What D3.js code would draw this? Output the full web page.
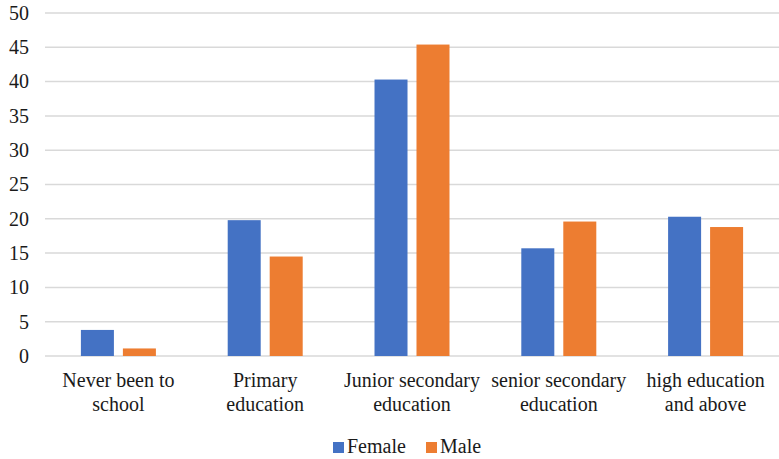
<!DOCTYPE html>
<html>
<head>
<meta charset="utf-8">
<style>
  body { margin: 0; background: #fff; }
  svg text { font-family: "Liberation Serif", "Times New Roman", Tinos, serif !important; }
</style>
</head>
<body>
<svg id="chart" width="779" height="459"></svg>
<script src="https://d3js.org/d3.v7.min.js"></script>
<script>
const categories = [
  ['Never been to', 'school'],
  ['Primary', 'education'],
  ['Junior secondary', 'education'],
  ['senior secondary', 'education'],
  ['high education', 'and above']
];
const seriesNames = ['Female', 'Male'];
const female = [3.8, 19.8, 40.3, 15.7, 20.3];
const male = [1.1, 14.5, 45.4, 19.6, 18.8];
const yTicks = [0, 5, 10, 15, 20, 25, 30, 35, 40, 45, 50];
const colors = ['#4472C4', '#ED7D31'];

const width = 779, height = 459;
const margin = { top: 13, right: 0, bottom: 103, left: 45 };
const font = '"Liberation Serif", "Times New Roman", Tinos, serif';
const textColor = '#1a1a1a';

const svg = d3.select('#chart');

const x = d3.scaleBand()
  .domain(d3.range(categories.length))
  .range([margin.left, width - margin.right]);

const y = d3.scaleLinear()
  .domain([0, 50])
  .range([height - margin.bottom, margin.top]);

// gridlines
svg.append('g')
  .selectAll('line')
  .data(yTicks)
  .join('line')
  .attr('x1', margin.left)
  .attr('x2', width - margin.right)
  .attr('y1', d => y(d))
  .attr('y2', d => y(d))
  .attr('stroke', '#d9d9d9')
  .attr('stroke-width', 1.5);

// y labels
svg.append('g')
  .selectAll('text')
  .data(yTicks)
  .join('text')
  .attr('x', 29)
  .attr('y', d => y(d))
  .attr('dy', '0.34em')
  .attr('text-anchor', 'end')
  .attr('fill', textColor)
  .attr('font-family', font)
  .attr('font-size', 20)
  .text(d => d);

const x1 = d3.scaleBand()
  .domain([0, 1])
  .range([0, x.bandwidth()])
  .paddingInner(0.214)
  .paddingOuter(0.855);

const rows = categories.map((c, i) => [female[i], male[i]]);

const groups = svg.append('g')
  .selectAll('g')
  .data(rows)
  .join('g')
  .attr('transform', (d, i) => `translate(${x(i)},0)`);

groups.selectAll('rect')
  .data(d => d)
  .join('rect')
  .attr('x', (d, j) => x1(j))
  .attr('width', x1.bandwidth())
  .attr('y', d => y(d))
  .attr('height', d => y(0) - y(d))
  .attr('fill', (d, j) => colors[j]);

// category labels
const labels = svg.append('g')
  .selectAll('text')
  .data(categories)
  .join('text')
  .attr('text-anchor', 'middle')
  .attr('fill', textColor)
  .attr('font-family', font)
  .attr('font-size', 20)
  .attr('x', (d, i) => x(i) + x.bandwidth() / 2);

labels.selectAll('tspan')
  .data(d => d)
  .join('tspan')
  .attr('x', function () { return this.parentNode.getAttribute('x'); })
  .attr('y', (d, k) => 387 + k * 23.5)
  .text(d => d);

// legend
const legend = svg.append('g')
  .selectAll('g')
  .data(seriesNames)
  .join('g')
  .attr('transform', (d, i) => `translate(${i === 0 ? 333 : 426},0)`);

legend.append('rect')
  .attr('y', 442)
  .attr('width', 11)
  .attr('height', 11)
  .attr('fill', (d, i) => colors[i]);

legend.append('text')
  .attr('x', 14)
  .attr('y', 453)
  .attr('fill', textColor)
  .attr('font-family', font)
  .attr('font-size', 20)
  .text(d => d);
</script>
</body>
</html>
